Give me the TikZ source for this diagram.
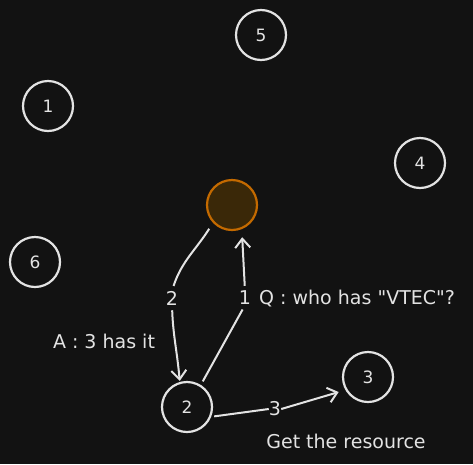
\documentclass[tikz,border=0pt]{standalone}
\usepackage{fontspec}
\setmainfont{DejaVu Sans}
\usetikzlibrary{arrows.meta}
\definecolor{bg}{HTML}{121212}
\definecolor{fg}{HTML}{E3E3E3}
\definecolor{hubline}{HTML}{C46A00}
\definecolor{hubfill}{HTML}{3A2808}
\begin{document}
\begin{tikzpicture}[
  x=1pt, y=1pt,
  peer/.style={circle, draw=fg, line width=2.2pt, minimum size=50pt, inner sep=0pt,
               text=fg, font=\fontsize{17}{19}\selectfont},
  hub/.style={circle, draw=hubline, fill=hubfill, line width=2.2pt, minimum size=50pt, inner sep=0pt},
  arr/.style={-{Straight Barb[length=9pt, width=15pt]}, line width=2pt, draw=fg},
  seg/.style={line width=2pt, draw=fg},
  tag/.style={text=fg, inner sep=0pt, font=\fontsize{19}{21}\selectfont},
  note/.style={text=fg, inner sep=0pt, font=\fontsize{19}{21}\selectfont},
]
  % Background
  \fill[bg] (0,0) rectangle (473,-464);
  \useasboundingbox (0,0) rectangle (473,-464);

  % Peers
  \node[peer] (n5) at (261,-35) {5};
  \node[peer] (n1) at (48,-106) {1};
  \node[peer] (n4) at (420,-163) {4};
  \node[hub] (me) at (232,-205) {};
  \node[peer] (n6) at (35,-262) {6};
  \node[peer] (n2) at (187,-407) {2};
  \node[peer] (n3) at (368,-377) {3};

  % Step labels
  \node[tag] (m2) at (172,-298) {2};
  \node[tag] (m1) at (245,-298) {1};
  \node[tag] (m3) at (275,-409) {3};

  % Messages
  \draw[seg, shorten <=4pt, shorten >=5pt] (n2.58) -- (m1.south);
  \draw[arr, shorten <=5pt, shorten >=8pt] (m1.north) -- (me.-68);
  \draw[seg, shorten <=7pt, shorten >=5pt] (me.-137) to[out=-122, in=72] (m2.north);
  \draw[arr, shorten <=5pt, shorten >=1pt] (m2.south) to[out=-88, in=95] (n2.106);
  \draw[seg, shorten <=3pt] (n2.-22) -- (m3.west);
  \draw[arr, shorten >=7pt] (m3.east) -- (n3.210);

  % Notes
  \node[note, anchor=west] (q) at (259,-298) {Q : who has \textquotedbl VTEC\textquotedbl?};
  \node[note] (a) at (104,-341) {A : 3 has it};
  \node[note] (get) at (346,-441) {Get the resource};
\end{tikzpicture}
\end{document}
